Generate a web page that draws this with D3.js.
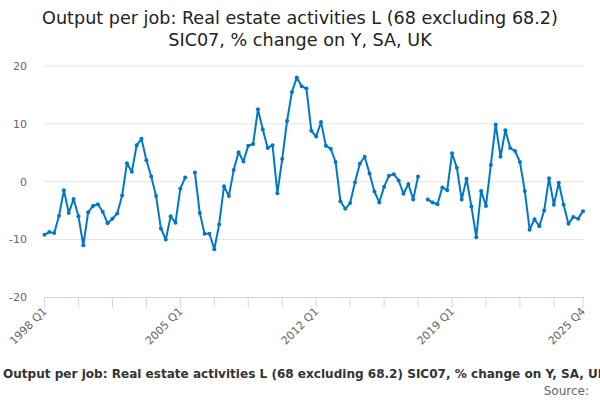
<!DOCTYPE html>
<html><head><meta charset="utf-8">
<script src="https://cdn.jsdelivr.net/npm/d3@7"></script>
<style>body{margin:0;background:#fff;}svg{display:block;font-family:"DejaVu Sans",sans-serif;}</style>
</head><body>
<svg id="c" width="600" height="400"></svg>
<script>
const titleLines = ["Output per job: Real estate activities L (68 excluding 68.2)", "SIC07, % change on Y, SA, UK"];
const caption = "Output per job: Real estate activities L (68 excluding 68.2) SIC07, % change on Y, SA, UK";
const startYear = 1998, endYear = 2025;
const quarters = [];
for (let y = startYear; y <= endYear; y++) for (let q = 1; q <= 4; q++) quarters.push(y + " Q" + q);
const values = [
 -9.2,-8.7,-8.9,-5.9,-1.5,-5.4,-3.0,-6.0,-11.0,-5.3,
 -4.2,-3.9,-5.2,-7.2,-6.4,-5.5,-2.4,3.2,1.7,6.3,
 7.4,3.7,0.9,-2.5,-8.1,-10.0,-6.0,-7.1,-1.2,0.7,
 null,1.6,-5.4,-9.0,-9.0,-11.7,-7.4,-0.8,-2.5,2.0,
 5.1,3.5,6.2,6.5,12.5,9.0,5.8,6.3,-2.0,3.9,
 10.5,15.5,18.0,16.5,16.1,8.8,7.8,10.3,6.2,5.7,
 3.4,-3.4,-4.7,-3.7,-0.1,3.1,4.3,1.4,-1.7,-3.6,
 -0.9,1.0,1.3,0.2,-2.1,-0.4,-3.1,0.9,null,-3.1,
 -3.6,-3.9,-1.0,-1.5,4.9,2.4,-3.1,0.5,-4.3,-9.6,
 -1.6,-4.2,2.9,9.9,4.3,8.9,5.8,5.3,3.4,-1.6,
 -8.3,-6.5,-7.7,-5.0,0.6,-4.0,-0.2,-4.0,-7.3,-6.1,
 -6.4,-5.1
];
const yTicks = [-20, -10, 0, 10, 20];
const xTickStep = 7, xLabelStep = 28;

const svg = d3.select("#c");
const x = d3.scaleLinear().domain([0, quarters.length - 1]).range([44.5, 583]);
const y = d3.scaleLinear().domain([-20, 20]).range([297.3, 66]);

// title
svg.append("text").attr("x", 300).attr("y", 24).attr("text-anchor", "middle")
  .attr("font-size", 17.6).attr("fill", "#222")
  .selectAll("tspan").data(titleLines).join("tspan")
  .attr("x", 300).attr("dy", (d, i) => i ? 22 : 0).text(d => d);

// grid
svg.append("g").selectAll("line").data(yTicks.filter(t => t !== -20)).join("line")
  .attr("x1", 44).attr("x2", 584).attr("y1", d => y(d)).attr("y2", d => y(d))
  .attr("stroke", "#e6e6e6").attr("stroke-width", 1);
svg.append("g").selectAll("text").data(yTicks).join("text")
  .attr("x", 27).attr("y", d => y(d) + 4).attr("text-anchor", "end")
  .attr("font-size", 11).attr("fill", "#666").text(d => d);

// x axis
const tickIdx = d3.range(0, quarters.length, xTickStep);
if (tickIdx[tickIdx.length - 1] !== quarters.length - 1) tickIdx.push(quarters.length - 1);
const labelIdx = d3.range(0, quarters.length, xLabelStep);
labelIdx.push(quarters.length - 1);
const xa = svg.append("g");
xa.append("line").attr("x1", 44).attr("x2", 584).attr("y1", 297.5).attr("y2", 297.5).attr("stroke", "#ccd6eb");
xa.selectAll("line.t").data(tickIdx).join("line").attr("class", "t")
  .attr("x1", d => x(d)).attr("x2", d => x(d)).attr("y1", 297.5).attr("y2", 307.5).attr("stroke", "#ccd6eb");
xa.selectAll("text").data(labelIdx).join("text")
  .attr("text-anchor", "end").attr("font-size", 11).attr("fill", "#666")
  .attr("transform", d => `translate(${x(d) + 3},${312}) rotate(-45)`)
  .text(d => quarters[d]);

// line
const data = values.map((v, i) => ({i, v}));
const line = d3.line().defined(d => d.v !== null).x(d => x(d.i)).y(d => y(d.v));
svg.append("path").datum(data).attr("d", line).attr("fill", "none")
  .attr("stroke", "#0077c8").attr("stroke-width", 2).attr("stroke-linejoin", "round");
svg.append("g").selectAll("circle").data(data.filter(d => d.v !== null)).join("circle")
  .attr("cx", d => x(d.i)).attr("cy", d => y(d.v)).attr("r", 2).attr("fill", "#0077c8");

// caption
svg.append("text").attr("x", 3).attr("y", 378).attr("font-size", 12.05).attr("font-weight", "bold")
  .attr("fill", "#333").text(caption);
svg.append("text").attr("x", 589).attr("y", 395).attr("text-anchor", "end")
  .attr("font-size", 12).attr("fill", "#666").text("Source:");
</script>
</body></html>
